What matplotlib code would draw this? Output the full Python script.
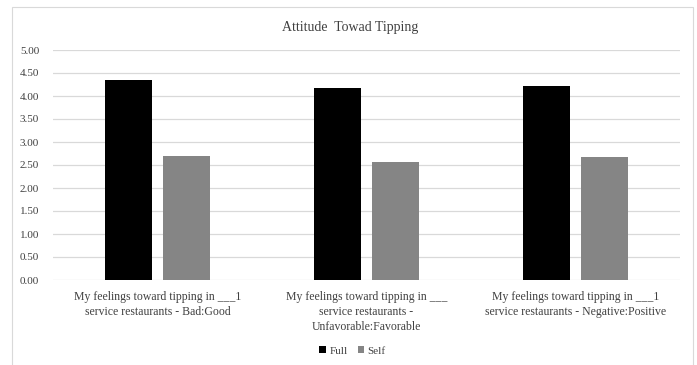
import matplotlib.pyplot as plt
import numpy as np
from matplotlib.patches import Rectangle

categories = [
    "My feelings toward tipping in ___1\nservice restaurants - Bad:Good",
    "My feelings toward tipping in ___\nservice restaurants -\nUnfavorable:Favorable",
    "My feelings toward tipping in ___1\nservice restaurants - Negative:Positive",
]
full = [4.35, 4.17, 4.22]
self_scores = [2.70, 2.57, 2.68]
yticks = [0, 0.5, 1.0, 1.5, 2.0, 2.5, 3.0, 3.5, 4.0, 4.5, 5.0]

plt.rcParams["font.family"] = ["Liberation Serif", "DejaVu Serif"]
text_color = "#404040"

fig = plt.figure(figsize=(6.97, 3.65), dpi=100)
# chart frame
fig.patches.append(Rectangle((12 / 697, -0.05), 681 / 697, 1.03 - 7 / 365 + 0.02,
                             transform=fig.transFigure, fill=False,
                             edgecolor="#d9d9d9", linewidth=0.8))
ax = fig.add_axes([53 / 697, 1 - 280 / 365, 627 / 697, 230 / 365])

x = np.arange(len(categories))
width = 0.225
gap = 0.057
ax.bar(x - (width + gap) / 2, full, width, color="black", label="Full")
ax.bar(x + (width + gap) / 2, self_scores, width, color="#858585", label="Self")

ax.set_xlim(-0.5, len(categories) - 0.5)
ax.set_ylim(0, 5)
ax.set_yticks(yticks)
ax.set_yticklabels(["%.2f" % v for v in yticks], fontsize=8, color=text_color)
ax.set_xticks(x)
ax.set_xticklabels(categories, fontsize=8.5, color=text_color, linespacing=1.3)
ax.tick_params(length=0, pad=8)
ax.tick_params(axis="y", pad=10)
ax.grid(axis="y", color="#d9d9d9", linewidth=0.9)
ax.set_axisbelow(True)
for s in ax.spines.values():
    s.set_visible(False)

fig.text(0.502, 1 - 27 / 365, "Attitude  Towad Tipping", ha="center", va="center",
         fontsize=10, color=text_color)
fig.legend(loc="center", bbox_to_anchor=(0.506, 1 - 351 / 365), ncol=2, frameon=False,
           fontsize=8, handlelength=0.6, handleheight=0.6, handletextpad=0.3,
           columnspacing=0.9, labelcolor=text_color)

fig.savefig("out.png", dpi=100)
